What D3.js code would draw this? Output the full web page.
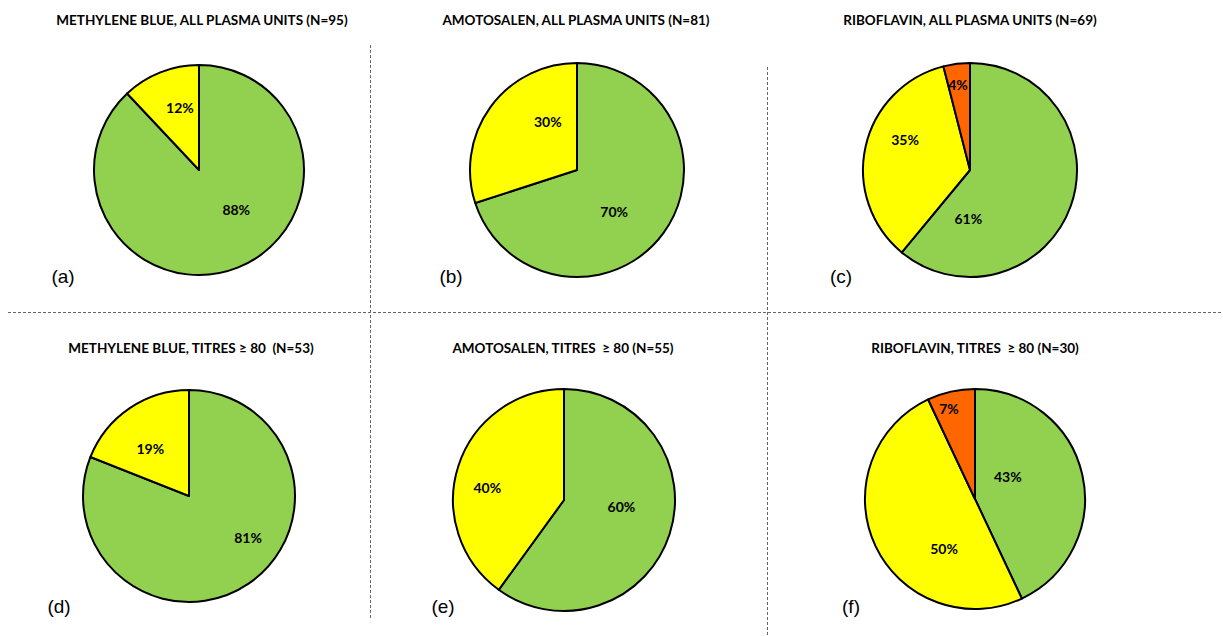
<!DOCTYPE html>
<html>
<head>
<meta charset="utf-8">
<script src="https://cdn.jsdelivr.net/npm/d3@7/dist/d3.min.js"></script>
<style>
  html, body { margin: 0; padding: 0; background: #fff; }
  svg { display: block; }
  text { white-space: pre; }
</style>
</head>
<body>
<svg id="chart" width="1223" height="636"></svg>
<script>
// Share of plasma units per outcome class, per treatment and subset
const panelTags = ["(a)", "(b)", "(c)", "(d)", "(e)", "(f)"];
const titles = [
  "METHYLENE BLUE, ALL PLASMA UNITS (N=95)",
  "AMOTOSALEN, ALL PLASMA UNITS (N=81)",
  "RIBOFLAVIN, ALL PLASMA UNITS (N=69)",
  "METHYLENE BLUE, TITRES \u2265 80  (N=53)",
  "AMOTOSALEN, TITRES  \u2265 80 (N=55)",
  "RIBOFLAVIN, TITRES  \u2265 80 (N=30)"
];
const greenShare  = [88, 70, 61, 81, 60, 43];
const yellowShare = [12, 30, 35, 19, 40, 50];
const orangeShare = [0, 0, 4, 0, 0, 7];

const sliceColors = ["#92D050", "#FFFF00", "#FF6600"];

// Layout: pie centre x, centre y, radius
const pieFrames = [
  [199, 170, 105], [577, 170, 107], [970, 170, 107],
  [189, 496, 106], [564, 500, 111], [975, 499, 110]
];
// Title centres and panel tag anchors
const titleFrames = [[202, 25], [576, 25], [970, 25], [191, 353], [563, 353], [975, 353]];
const tagFrames = [[63, 283], [451, 283], [841, 283], [59, 613], [443, 613], [851, 613]];
// Percentage label placement: [angle in degrees clockwise from 12 o'clock, fraction of radius]
const labelSpots = [
  [[137, 0.52], [343, 0.62], null],
  [[138, 0.52], [329, 0.53], null],
  [[182, 0.45], [295, 0.67], [352, 0.81]],
  [[125, 0.68], [321, 0.58], null],
  [[96, 0.52], [279, 0.70], null],
  [[56, 0.36], [212, 0.53], [344, 0.86]]
];

const svg = d3.select("#chart");

// Dashed panel dividers
const divider = svg.append("g")
  .attr("stroke", "#666")
  .attr("stroke-width", 1)
  .attr("stroke-dasharray", "3,2")
  .attr("fill", "none");
divider.append("line").attr("x1", 370.5).attr("x2", 370.5).attr("y1", 45).attr("y2", 618);
divider.append("line").attr("x1", 767.5).attr("x2", 767.5).attr("y1", 67).attr("y2", 636);
divider.append("line").attr("x1", 8).attr("x2", 1223).attr("y1", 312.5).attr("y2", 312.5);

const pie = d3.pie().sort(null).value(d => d.value);

panelTags.forEach((tag, i) => {
  const [cx, cy, r] = pieFrames[i];
  const slices = [greenShare[i], yellowShare[i], orangeShare[i]]
    .map((v, k) => ({ value: v, k }))
    .filter(d => d.value > 0);
  const arcs = pie(slices);
  const arc = d3.arc().innerRadius(0).outerRadius(r);

  const g = svg.append("g").attr("transform", `translate(${cx},${cy})`);
  g.selectAll("path")
    .data(arcs)
    .join("path")
    .attr("d", arc)
    .attr("fill", d => sliceColors[d.data.k])
    .attr("stroke", "#000")
    .attr("stroke-width", 2)
    .attr("stroke-linejoin", "round");

  g.selectAll("text")
    .data(arcs)
    .join("text")
    .attr("transform", d => {
      const spot = labelSpots[i][d.data.k];
      const a = spot[0] * Math.PI / 180;
      const dist = spot[1] * r;
      return `translate(${dist * Math.sin(a)},${-dist * Math.cos(a)})`;
    })
    .attr("text-anchor", "middle")
    .attr("dominant-baseline", "central")
    .attr("font-family", "Lato, 'Open Sans', sans-serif")
    .attr("font-weight", "bold")
    .attr("font-size", 14)
    .attr("fill", "#000")
    .text(d => d.data.value + "%");

  svg.append("text")
    .attr("x", titleFrames[i][0])
    .attr("y", titleFrames[i][1])
    .attr("text-anchor", "middle")
    .attr("font-family", "Lato, 'Open Sans', sans-serif")
    .attr("font-weight", "bold")
    .attr("font-size", 13.5)
    .attr("fill", "#000")
    .text(titles[i]);

  svg.append("text")
    .attr("x", tagFrames[i][0])
    .attr("y", tagFrames[i][1])
    .attr("text-anchor", "middle")
    .attr("font-family", "'Liberation Sans', Arial, sans-serif")
    .attr("font-size", 19)
    .attr("fill", "#000")
    .text(tag);
});
</script>
</body>
</html>
